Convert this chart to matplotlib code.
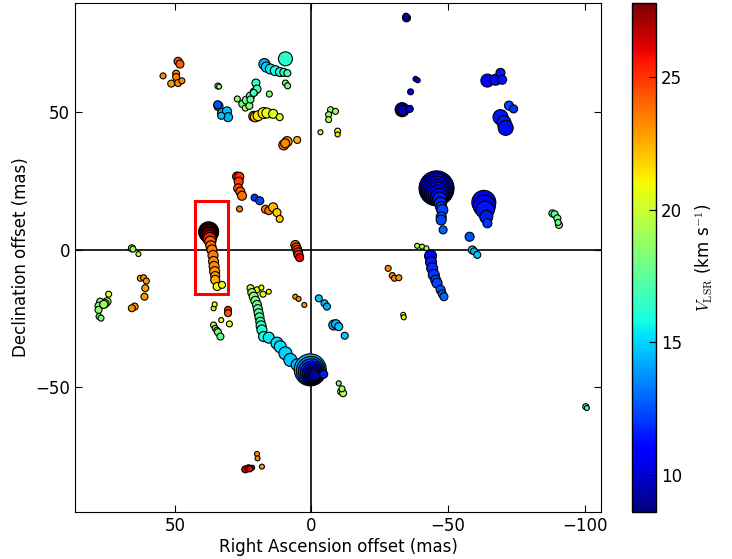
import numpy as np
import matplotlib
matplotlib.use("Agg")
import matplotlib.pyplot as plt
from matplotlib.patches import Rectangle

plt.rcParams["mathtext.fontset"] = "cm"

# maser spots: RA offset (mas), Dec offset (mas), V_LSR (km/s), spot diameter (px ~ flux)
ra = [
    # orange group NE
    48.8, 48.1, 54.3, 49.5, 49.5, 48.8, 47.4, 51.3,
    34.2, 33.8,
    # blue group
    34.0, 34.3, 32.7, 30.9, 30.5, 33.0,
    # green / teal
    27.1, 25.3, 23.8, 22.3, 20.9, 24.2, 22.7,
    20.3, 19.9, 21.1, 22.3,
    # yellow / brown
    21.1, 20.5, 19.5, 17.5, 16.3, 14.0, 11.6,
    # cyan group
    17.2, 16.5, 15.0, 13.2, 11.5, 10.1, 8.8, 9.5, 9.5, 8.7, 15.4,
    # small green near axis
    -7.0, -8.8, -6.3, -6.3, -3.3, -9.6, -9.6,
    # navy spots
    -34.8, -34.6, -38.1, -38.9, -36.3, -33.2, -33.0, -33.5, -36.0,
    # blue NW
    -64.4, -67.4, -69.2, -69.8, -72.3, -74.0, -69.2, -70.5, -71.1,
    # big blue cluster
    -45.8, -45.9, -46.0, -46.1, -46.3, -46.5, -46.7, -46.9, -47.2, -47.5,
    -47.9, -47.5, -47.5, -48.2,
    -63.1, -63.3, -63.6, -64.0, -64.4, -57.9,
    -88.2, -89.0, -90.0, -90.6, -90.3,
    -38.7, -40.5, -42.1, -58.9, -59.5, -60.7,
    # blue chain
    -43.6, -43.8, -44.2, -44.8, -45.5, -46.0, -47.3, -47.9, -48.5,
    -100.4, -100.8,
    # west
    65.7, 65.3, 63.3,
    62.6, 61.4, 60.4, 60.8, 61.1, 64.7, 65.7,
    74.2, 74.8, 75.5, 77.3, 77.9, 77.9, 77.7, 77.0, 76.0,
    # boxed feature
    37.6, 37.6, 37.6, 37.5, 37.5, 37.4, 37.3, 37.2,
    37.0, 36.8, 36.4, 36.0, 35.8, 35.6, 35.4, 35.2,
    35.2, 34.5, 32.7,
    35.8, 35.4, 30.5, 30.5, 33.0, 30.0,
    35.8, 35.2, 34.6, 34.2, 33.3,
    # near centre
    20.8, 18.9, 16.8, 15.6, 14.0, 12.6, 11.6,
    27.2, 26.4, 26.6, 26.8, 26.0, 25.4, 26.3,
    8.9, 10.1, 9.6, 5.2,
    5.9, 5.5, 5.2, 4.9, 4.7, 4.3,
    # arc towards south cluster
    22.3, 19.9, 18.3, 15.6, 17.7,
    21.8, 21.1, 20.5, 19.9, 19.6, 19.3, 19.0, 18.7, 18.4, 18.1, 17.5, 15.6,
    12.6, 11.4, 9.5, 7.7, 5.2, 2.8,
    # south cluster
    0.4, 0.2, 0.0, -0.2, -0.4, -0.6, -0.8, -1.0, -4.5,
    5.9, 4.7, 2.6,
    -2.7, -4.8, -5.7, -8.2, -9.0, -10.0, -12.2,
    -28.1, -29.6, -30.4, -32.0,
    -33.6, -33.8,
    -10.0, -10.9, -11.6, -11.2,
    19.9, 19.7, 18.1, 21.7, 24.2, 23.0, 22.5,
]
dec = [
    68.6, 67.6, 63.3, 64.1, 62.9, 60.7, 61.5, 60.5,
    59.6, 59.4,
    52.3, 52.8, 49.8, 50.4, 48.3, 48.8,
    54.9, 53.1, 54.5, 56.0, 57.5, 51.6, 52.4,
    60.7, 58.5, 57.1, 54.7,
    48.6, 48.4, 48.8, 49.8, 49.8, 49.5, 48.3,
    67.6, 66.5, 65.8, 65.2, 64.7, 64.6, 64.3, 69.5, 60.7, 59.7, 56.7,
    51.0, 50.4, 49.2, 47.4, 42.8, 43.2, 42.0,
    84.4, 85.0, 62.2, 61.7, 57.5, 51.0, 51.2, 50.8, 51.3,
    61.6, 61.9, 64.4, 61.9, 52.5, 51.3, 48.3, 46.3, 44.4,
    22.4, 22.0, 21.5, 21.0, 20.5, 20.0, 19.3, 18.5, 17.0, 15.5,
    14.5, 12.0, 10.9, 7.3,
    17.3, 16.0, 14.5, 12.0, 9.7, 4.8,
    13.3, 13.0, 11.5, 9.1, 10.0,
    1.5, 1.2, 0.6, 0.0, -0.5, -1.8,
    -2.2, -4.5, -6.7, -9.1, -11.0, -12.1, -14.5, -16.0, -17.0,
    -57.0, -57.5,
    0.6, 0.3, -1.5,
    -10.3, -10.1, -11.3, -13.9, -17.0, -20.6, -21.2,
    -16.1, -18.8, -19.5, -18.8, -20.3, -21.8, -24.2, -24.8, -19.8,
    6.6, 6.3, 6.0, 5.7, 5.4, 5.0, 4.5, 4.0,
    3.0, 1.5, 0.0, -2.0, -4.2, -6.0, -7.9, -9.5,
    -10.9, -13.3, -12.7,
    -21.2, -19.8, -21.8, -23.0, -25.5, -26.9,
    -27.3, -28.5, -29.2, -29.9, -31.5,
    19.0, 17.9, 14.8, 14.3, 15.5, 13.6, 11.3,
    26.7, 26.6, 24.8, 22.4, 21.2, 19.7, 14.9,
    39.4, 38.2, 38.8, 40.0,
    1.8, 0.9, 0.0, -0.9, -1.8, -2.8,
    -13.9, -14.5, -13.7, -15.2, -16.1,
    -15.5, -17.0, -18.5, -20.0, -21.5, -23.0, -24.5, -26.1, -27.6, -29.1, -31.5, -31.9,
    -33.9, -35.2, -37.6, -40.0, -41.8, -43.0,
    -43.6, -44.0, -44.3, -44.6, -44.9, -45.2, -45.4, -45.6, -45.2,
    -17.0, -17.8, -20.0,
    -17.6, -19.4, -20.6, -27.3, -27.0, -27.9, -31.2,
    -6.7, -9.3, -10.3, -10.1,
    -23.6, -24.5,
    -48.5, -51.5, -52.1, -50.5,
    -74.2, -75.8, -78.8, -79.2, -79.8, -79.4, -79.6,
]
vlsr = [
    24.5, 24.2, 23.2, 23.5, 23.5, 23.3, 23.3, 23.0,
    19.2, 19.0,
    14.0, 12.5, 14.6, 14.6, 14.3, 14.8,
    18.8, 18.0, 17.5, 16.5, 15.8, 19.5, 18.5,
    16.5, 17.0, 17.0, 17.5,
    22.5, 22.0, 21.5, 21.0, 20.8, 20.5, 20.3,
    14.3, 15.0, 15.5, 15.8, 16.0, 16.5, 17.0, 16.3, 18.0, 18.3, 18.5,
    18.8, 19.0, 19.0, 19.3, 19.5, 21.0, 21.5,
    9.3, 9.6, 10.0, 10.2, 10.5, 9.0, 9.3, 9.6, 10.5,
    11.0, 11.2, 11.5, 11.3, 12.3, 12.0, 11.3, 11.5, 11.2,
    9.3, 9.8, 10.3, 10.0, 10.8, 10.5, 11.0, 11.5, 11.8, 12.0,
    12.3, 12.5, 12.3, 12.8,
    10.8, 11.0, 11.3, 11.5, 12.0, 12.5,
    17.0, 17.5, 18.0, 18.3, 18.0,
    19.5, 19.3, 19.0, 15.0, 14.5, 14.8,
    11.0, 11.5, 11.8, 12.0, 12.3, 12.3, 12.5, 12.8, 13.0,
    16.5, 17.0,
    19.5, 19.0, 20.0,
    23.0, 23.2, 23.0, 23.0, 23.0, 23.0, 23.2,
    20.5, 19.5, 19.0, 18.5, 18.3, 18.5, 18.0, 18.0, 19.0,
    27.6, 27.4, 27.2, 27.0, 26.8, 26.5, 26.0, 25.5,
    24.0, 23.8, 23.5, 23.5, 23.3, 23.3, 23.0, 23.0,
    22.5, 21.0, 20.8,
    20.5, 21.0, 25.0, 24.5, 21.0, 20.8,
    19.5, 19.0, 18.5, 18.3, 17.5,
    12.0, 12.3, 23.5, 23.8, 22.3, 22.0, 22.0,
    25.3, 25.0, 24.8, 24.5, 24.3, 23.8, 23.5,
    23.0, 23.5, 23.3, 22.5,
    24.0, 24.5, 24.8, 25.0, 25.3, 26.0,
    19.5, 20.5, 21.0, 21.0, 20.8,
    19.0, 18.5, 18.0, 17.8, 17.5, 17.3, 17.0, 16.8, 16.5, 16.2, 15.8, 15.5,
    15.3, 15.2, 15.0, 14.8, 14.5, 14.2,
    14.5, 13.5, 12.5, 11.5, 10.5, 10.0, 9.5, 9.2, 11.5,
    23.0, 23.2, 23.0,
    14.8, 14.5, 14.3, 14.0, 14.5, 14.8, 14.8,
    23.3, 23.5, 23.3, 23.0,
    20.8, 20.5,
    18.5, 19.5, 19.3, 19.0,
    23.0, 23.3, 23.0, 26.8, 26.5, 27.0, 26.0,
]
diam = [
    8, 8, 6, 7, 7, 7, 6, 7,
    6, 5,
    9, 8, 9, 9, 9, 7,
    6, 7, 8, 8, 8, 6, 7,
    8, 8, 7, 7,
    10, 10, 10, 11, 10, 9, 7,
    11, 10, 10, 10, 9, 8, 7, 14, 6, 6, 6,
    6, 6, 6, 6, 5, 6, 5,
    8, 6, 5, 5, 6, 14, 12, 10, 7,
    13, 11, 9, 9, 9, 8, 15, 14, 15,
    35, 32, 29, 26, 23, 20, 17, 14, 12, 11,
    11, 10, 10, 8,
    24, 22, 18, 13, 9, 9,
    7, 7, 7, 7, 6,
    5, 5, 5, 8, 7, 7,
    12, 11, 11, 11, 10, 10, 9, 8, 8,
    6, 5,
    7, 6, 5,
    6, 6, 6, 7, 7, 7, 7,
    6, 8, 8, 7, 7, 7, 6, 6, 8,
    20, 19, 18, 17, 16, 15, 14, 13,
    11, 10, 10, 10, 10, 10, 10, 9,
    9, 8, 7,
    5, 5, 7, 7, 5, 6,
    6, 6, 6, 7, 7,
    7, 8, 8, 8, 9, 8, 7,
    9, 9, 9, 9, 9, 9, 6,
    10, 10, 9, 7,
    9, 9, 9, 9, 9, 8,
    7, 6, 5, 5, 6,
    8, 9, 9, 9, 9, 9, 9, 9, 10, 10, 10, 11,
    12, 12, 13, 13, 12, 12,
    32, 29, 26, 23, 20, 17, 14, 11, 8,
    5, 5, 5,
    7, 7, 7, 10, 9, 8, 7,
    6, 6, 6, 6,
    5, 5,
    5, 7, 7, 6,
    5, 5, 5, 5, 7, 7, 6,
]

# boxed feature (RA range, Dec range in mas)
box_ra = (42.5, 30.4)
box_dec = (17.8, -16.0)

fig = plt.figure(figsize=(7.32, 5.59), dpi=100)
ax = fig.add_axes([0.1025, 0.0841, 0.7186, 0.9105])
cax = fig.add_axes([0.8634, 0.0841, 0.0328, 0.9105])

ax.axhline(0, color="black", linewidth=1.2, zorder=1)
ax.axvline(0, color="black", linewidth=1.2, zorder=1)

sizes = (0.72 * np.array(diam)) ** 2
sc = ax.scatter(ra, dec, c=vlsr, s=sizes, cmap="jet", vmin=8.6, vmax=27.8,
                edgecolors="black", linewidths=0.8, zorder=2)

ax.add_patch(Rectangle((box_ra[1], box_dec[1]), box_ra[0] - box_ra[1],
                       box_dec[0] - box_dec[1], fill=False,
                       edgecolor="red", linewidth=2.2, zorder=3))

ax.set_xlim(86.5, -106)
ax.set_ylim(-95.3, 89.8)
ax.set_xticks([50, 0, -50, -100])
ax.set_yticks([-50, 0, 50])
ax.tick_params(direction="in", top=True, right=True, length=5, labelsize=12)
ax.set_xlabel("Right Ascension offset (mas)", fontsize=12, labelpad=2)
ax.set_ylabel("Declination offset (mas)", fontsize=12, labelpad=4)

cb = fig.colorbar(sc, cax=cax)
cb.set_ticks([10, 15, 20, 25])
cb.ax.tick_params(direction="in", length=5, labelsize=12)
cb.outline.set_linewidth(1.0)
cb.set_label(r"$V_{\rm LSR}$ (km s$^{-1}$)", fontsize=12, labelpad=8)

fig.savefig("out.png", dpi=100)
